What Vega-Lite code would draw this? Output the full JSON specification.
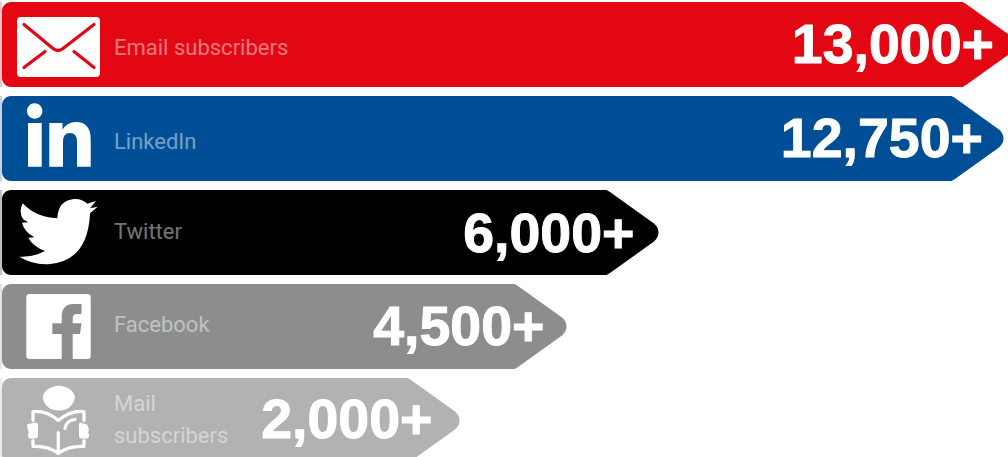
{"$schema":"https://vega.github.io/schema/vega-lite/v6.json","width":1008,"height":457,"padding":0,"autosize":{"type":"none"},"background":"white","config":{"view":{"stroke":null}},
"data":{"values":[
{"channel":"Email","label":"Email subscribers","value":13000,"text":"13,000+"},
{"channel":"LinkedIn","label":"LinkedIn","value":12750,"text":"12,750+"},
{"channel":"Twitter","label":"Twitter","value":6000,"text":"6,000+"},
{"channel":"Facebook","label":"Facebook","value":4500,"text":"4,500+"},
{"channel":"Mail","label":["Mail","subscribers"],"value":2000,"text":"2,000+"}]},
"encoding":{
"x":{"field":"value","type":"quantitative","axis":null,"scale":{"domain":[-100,0,2000,4500,6000,12750,13000],"range":[0,2,408,515,607,952,963],"nice":false,"zero":false}},
"y":{"field":"channel","type":"nominal","axis":null,"sort":null,"scale":{"domain":["Email","LinkedIn","Twitter","Facebook","Mail"],"range":[2,463],"paddingInner":0.0957,"paddingOuter":0}}},
"layer":[
{"mark":{"type":"bar","opacity":0.25},"encoding":{"x":{"datum":-100,"type":"quantitative"},"x2":{"datum":0},"color":{"field":"channel","type":"nominal","legend":null,"scale":{"domain":["Email","LinkedIn","Twitter","Facebook","Mail"],"range":["#e30613","#004f96","#000000","#8c8e8d","#b2b2b2"]}}}},
{"mark":{"type":"bar","cornerRadiusTopLeft":9,"cornerRadiusBottomLeft":9},"encoding":{"x":{"datum":0,"type":"quantitative"},"x2":{"field":"value"},"color":{"field":"channel","type":"nominal","legend":null}}},
{"mark":{"type":"point","filled":true,"opacity":1,"size":4,"shape":"M-3,-42.5 L-2,-42.5 Q0.5,-42.5 3,-40.5 L47,-9 Q51.5,-5 51.5,0 Q51.5,5 47,9 L3,40.5 Q0.5,42.5 -2,42.5 L-3,42.5 Z"},"encoding":{"color":{"field":"channel","type":"nominal","legend":null}}},
{"transform":[{"filter":"datum.channel==='Email'||datum.channel==='LinkedIn'"}],"mark":{"type":"text","align":"left","baseline":"alphabetic","dy":10,"font":"Roboto","fontSize":22,"fill":"white","opacity":0.45},"encoding":{"x":{"datum":0,"type":"quantitative"},"text":{"field":"label"},"xOffset":{"value":112}}},
{"transform":[{"filter":"datum.channel==='Twitter'||datum.channel==='Facebook'"}],"mark":{"type":"text","align":"left","baseline":"alphabetic","dy":6,"font":"Roboto","fontSize":22,"fill":"white","opacity":0.45},"encoding":{"x":{"datum":0,"type":"quantitative"},"text":{"field":"label"},"xOffset":{"value":112}}},
{"transform":[{"filter":"datum.channel==='Mail'"}],"mark":{"type":"text","align":"left","baseline":"alphabetic","dy":-9,"lineHeight":31.5,"font":"Roboto","fontSize":22,"fill":"white","opacity":0.45},"encoding":{"x":{"datum":0,"type":"quantitative"},"text":{"field":"label"},"xOffset":{"value":112}}},
{"transform":[{"filter":"datum.channel==='Email'||datum.channel==='LinkedIn'"}],"mark":{"type":"text","align":"right","baseline":"alphabetic","dx":31,"dy":18.5,"font":"Liberation Sans","fontWeight":"bold","fontSize":55.5,"fill":"white","stroke":"white","strokeWidth":1},"encoding":{"text":{"field":"text"}}},
{"transform":[{"filter":"datum.channel==='Twitter'"}],"mark":{"type":"text","align":"right","baseline":"alphabetic","dx":27.5,"dy":19,"font":"Liberation Sans","fontWeight":"bold","fontSize":55.5,"fill":"white","stroke":"white","strokeWidth":1},"encoding":{"text":{"field":"text"}}},
{"transform":[{"filter":"datum.channel==='Facebook'"}],"mark":{"type":"text","align":"right","baseline":"alphabetic","dx":29.5,"dy":18.5,"font":"Liberation Sans","fontWeight":"bold","fontSize":55.5,"fill":"white","stroke":"white","strokeWidth":1},"encoding":{"text":{"field":"text"}}},
{"transform":[{"filter":"datum.channel==='Mail'"}],"mark":{"type":"text","align":"right","baseline":"alphabetic","dx":24.5,"dy":18,"font":"Liberation Sans","fontWeight":"bold","fontSize":55.5,"fill":"white","stroke":"white","strokeWidth":1},"encoding":{"text":{"field":"text"}}},
{"transform":[{"filter":"datum.channel==='Email'"}],"mark":{"type":"point","filled":true,"opacity":1,"size":4,"fill":"white","shape":"M19,-27.5 L94,-27.5 Q98,-27.5 98,-23.5 L98,28.5 Q98,32.5 94,32.5 L19,32.5 Q15,32.5 15,28.5 L15,-23.5 Q15,-27.5 19,-27.5 Z"},"encoding":{"x":{"datum":0,"type":"quantitative"}}},
{"transform":[{"filter":"datum.channel==='Email'"}],"mark":{"type":"point","filled":false,"opacity":1,"size":4,"stroke":"#e30613","strokeWidth":3.2,"strokeCap":"round","strokeJoin":"round","shape":"M22,-20 L51,4 Q56,8 61,4 L92,-20 M22,23 L43,7 M72,7 L92,23"},"encoding":{"x":{"datum":0,"type":"quantitative"}}},
{"transform":[{"filter":"datum.channel==='LinkedIn'"}],"mark":{"type":"point","filled":true,"opacity":1,"size":4,"fill":"white","shape":"M25,-27.5 A7.7,7.7 0 1 1 40.4,-27.5 A7.7,7.7 0 1 1 25,-27.5 Z M26,-15.5 L39.7,-15.5 L39.7,28.2 L26,28.2 Z M47.3,-15.5 L60.5,-15.5 L60.5,-9 Q65,-16.5 74,-16.5 Q88.7,-16.5 88.7,1 L88.7,28.2 L75,28.2 L75,3 Q75,-5.5 68,-5.5 Q61,-5.5 61,3 L61,28.2 L47.3,28.2 Z"},"encoding":{"x":{"datum":0,"type":"quantitative"}}},
{"transform":[{"filter":"datum.channel==='Twitter'"}],"mark":{"type":"point","filled":true,"opacity":1,"size":4,"fill":"white","shape":"M94,-31.5 L85.3,-28.8 Q80,-34 72,-33.5 Q56,-32 55.3,-14.2 Q34,-15 20.7,-29.2 Q16,-20 21.5,-13 L26.3,-10.2 L20,-9.8 Q22,-1 32.3,4.8 L26.3,5.2 Q31,14 43,18.5 Q31,25 17.3,24.2 Q32,33 48,31.5 Q86,28 88,-19.2 L95.7,-25.8 L88,-24.2 Z"},"encoding":{"x":{"datum":0,"type":"quantitative"}}},
{"transform":[{"filter":"datum.channel==='Facebook'"}],"mark":{"type":"point","filled":true,"opacity":1,"size":4,"fill":"white","shape":"M27.3,-32.5 L85.7,-32.5 Q88.7,-32.5 88.7,-29.5 L88.7,29.5 Q88.7,32.5 85.7,32.5 L27.3,32.5 Q24.3,32.5 24.3,29.5 L24.3,-29.5 Q24.3,-32.5 27.3,-32.5 Z"},"encoding":{"x":{"datum":0,"type":"quantitative"}}},
{"transform":[{"filter":"datum.channel==='Facebook'"}],"mark":{"type":"point","filled":true,"opacity":1,"size":4,"fill":"#8c8e8d","shape":"M59.7,32.5 L59.7,7.5 L50.3,7.5 L50.3,-3.2 L59.7,-3.2 L59.7,-10 Q59.7,-22.5 72,-22.5 L79.5,-22.5 L79.5,-12.5 L75,-12.5 Q70.7,-12.5 70.7,-8 L70.7,-3.2 L79.5,-3.2 L78,7.5 L70.7,7.5 L70.7,32.5 Z"},"encoding":{"x":{"datum":0,"type":"quantitative"}}},
{"transform":[{"filter":"datum.channel==='Mail'"}],"mark":{"type":"point","filled":true,"opacity":1,"size":4,"fill":"white","shape":"M40.7,-23 A16.2,12.8 0 0 1 73,-23 Q70,-10 56.8,-10 Q43.5,-10 40.7,-23 Z M25,4 L33,2 Q36,2 36,5 L36,15 Q36,18 33,18 L27,18 Q25,14 27,12 Q25,9 25,4 Z M78,2 L85,4 Q88,9 86,12 Q88,14 86,18 L80,18 Q77,18 77,15 L77,5 Q77,2 78,2 Z"},"encoding":{"x":{"datum":0,"type":"quantitative"}}},
{"transform":[{"filter":"datum.channel==='Mail'"}],"mark":{"type":"point","filled":false,"opacity":1,"size":4,"stroke":"white","strokeWidth":3.2,"strokeCap":"round","strokeJoin":"round","shape":"M56.3,33 Q46,25 31,26 L31,20 M31,0 L31,-9 Q45,-10 56.3,0 Q68,-10 82,-9 L82,0 M82,20 L82,26 Q67,25 56.3,33 M56.3,12 L56.3,33 M63,8 Q64,0 73,-1"},"encoding":{"x":{"datum":0,"type":"quantitative"}}}
]}
